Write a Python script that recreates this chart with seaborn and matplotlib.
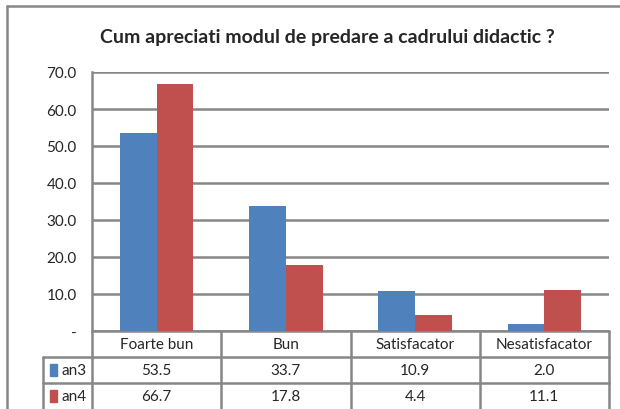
import matplotlib
matplotlib.use('Agg')
import matplotlib.pyplot as plt
import matplotlib.transforms as mtransforms
from matplotlib.patches import Rectangle
import pandas as pd
import seaborn as sns

# Data
categories = ['Foarte bun', 'Bun', 'Satisfacator', 'Nesatisfacator']
an3 = [53.5, 33.7, 10.9, 2.0]
an4 = [66.7, 17.8, 4.4, 11.1]
series = ['an3', 'an4']
colors = ['#4F81BD', '#C0504D']
yticks = [0, 10, 20, 30, 40, 50, 60, 70]

df = pd.DataFrame({
    'Category': categories * 2,
    'Value': an3 + an4,
    'Serie': ['an3'] * len(categories) + ['an4'] * len(categories),
})

sns.set_style('white')
plt.rcParams['font.family'] = ['Lato', 'DejaVu Sans']
grid_col = '#878787'

fig = plt.figure(figsize=(6.2, 4.1), dpi=100)
W, H = 620, 410
ax = fig.add_axes([92 / W, (H - 332) / H, (609 - 92) / W, (332 - 73) / H])

sns.barplot(data=df, x='Category', y='Value', hue='Serie', palette=colors,
            width=0.57, saturation=1, ax=ax, legend=False, zorder=3, linewidth=0)

ax.set_ylim(0, 70)
ax.set_xlim(-0.5, len(categories) - 0.5)
ax.set_yticks(yticks)
ax.set_yticklabels(['-'] + ['%.1f' % t for t in yticks[1:]], fontsize=11)
ax.tick_params(axis='y', length=0, pad=11)
ax.set_xticks([])
ax.set_xlabel('')
ax.set_ylabel('')
ax.yaxis.grid(True, color=grid_col, linewidth=1.8, zorder=0)
for side in ['top', 'right', 'bottom']:
    ax.spines[side].set_visible(False)
ax.spines['left'].set_color(grid_col)
ax.spines['left'].set_linewidth(1.8)

# Data table under the plot
trans = mtransforms.blended_transform_factory(ax.transData, ax.transAxes)
row_h = 26 / 259
leg_left = -0.5 - 49 / 129.25
n = len(categories)
line_kw = dict(color=grid_col, linewidth=1.8, transform=trans, clip_on=False)
ax.plot([-0.5, n - 0.5], [0, 0], **line_kw)
for r in [1, 2]:
    ax.plot([leg_left, n - 0.5], [-r * row_h, -r * row_h], **line_kw)
for b in range(n + 1):
    ax.plot([b - 0.5, b - 0.5], [0, -3.2 * row_h], **line_kw)
ax.plot([leg_left, leg_left], [-row_h, -3.2 * row_h], **line_kw)

for i, cat in enumerate(categories):
    ax.text(i, -0.5 * row_h, cat, transform=trans, ha='center', va='center', fontsize=11)
for r, (name, vals, col) in enumerate(zip(series, [an3, an4], colors)):
    yc = -(r + 1.5) * row_h
    for i, v in enumerate(vals):
        ax.text(i, yc, '%.1f' % v, transform=trans, ha='center', va='center', fontsize=11)
    ax.add_patch(Rectangle((leg_left + 0.055, yc - 0.022), 0.055, 0.044, color=col,
                           transform=trans, clip_on=False))
    ax.text(leg_left + 0.14, yc, name, transform=trans, ha='left', va='center', fontsize=11)

# Chart border and title
fig.add_artist(plt.Line2D([7 / W, 7 / W], [0, 1 - 7 / H], color=grid_col, linewidth=1.8))
fig.add_artist(plt.Line2D([7 / W, 1], [1 - 7 / H, 1 - 7 / H], color=grid_col, linewidth=1.8))
fig.text(327 / W, 1 - 37 / H, 'Cum apreciati modul de predare a cadrului didactic ?',
         ha='center', va='center', fontsize=14, fontweight='bold')

plt.savefig('out.png', dpi=100)
